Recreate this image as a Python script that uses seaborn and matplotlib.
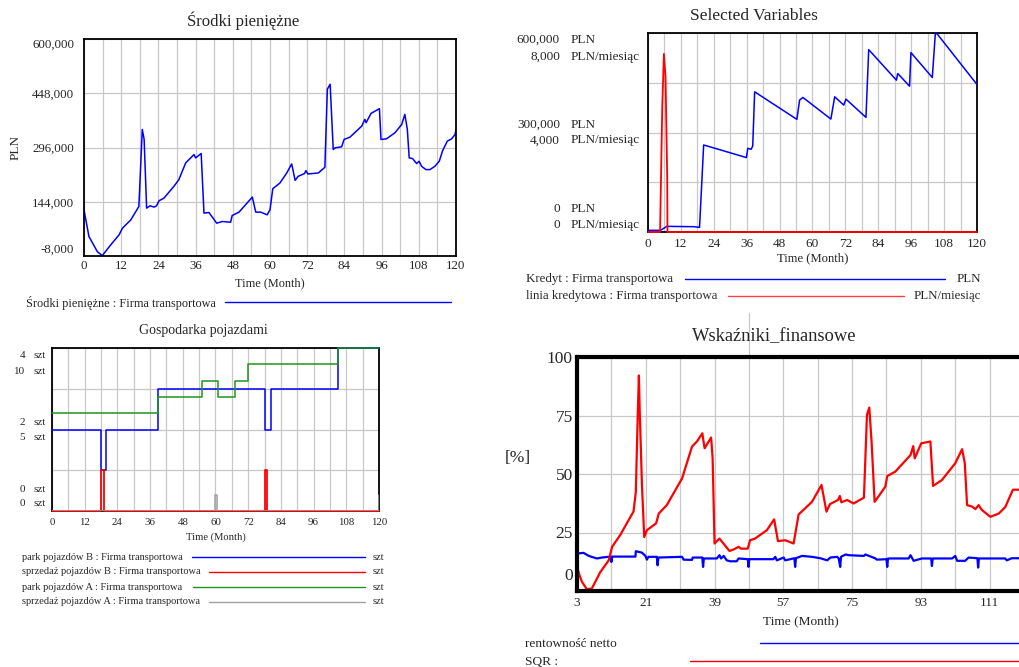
import numpy as np
import matplotlib
matplotlib.use("Agg")
import matplotlib.pyplot as plt
import matplotlib.transforms as mtransforms
from matplotlib.lines import Line2D
from matplotlib.ticker import MultipleLocator, FixedLocator, FuncFormatter
import seaborn as sns

# --- Srodki pieniezne (PLN, in thousands) ---
cash_t = [0, 1.6, 4.3, 5.9, 8.6, 11.3, 12.4, 15.1, 17.7, 18.8, 19.4, 20.2, 21.3, 22.6, 23.4,
          24.2, 25.8, 29.0, 30.6, 32.8, 35.5, 36.0, 37.8, 38.7, 40.3, 42.8, 44.6, 47.3, 47.8,
          50.0, 54.3, 55.4, 57.0, 59.1, 60.0, 60.9, 63.2, 65.4, 67.0, 68.1, 69.1, 71.1, 71.6,
          72.2, 75.6, 77.7, 78.5, 79.4, 80.4, 81.0, 83.1, 83.9, 85.8, 89.6, 90.6, 91.0, 92.6,
          95.3, 95.8, 97.6, 100.3, 102.5, 103.5, 104.3, 104.9, 106.0, 107.3, 108.1, 108.9,
          110.3, 111.6, 113.2, 114.6, 115.7, 117.2, 118.6, 119.7, 120]
cash_k = [121.5, 46.4, 4.2, -7.0, 23.0, 51.1, 69.9, 93.3, 130.8, 346.7, 318.5, 126.0, 132.7,
          129.0, 132.7, 146.8, 154.3, 187.2, 205.9, 252.8, 276.3, 266.9, 279.1, 112.1, 114.0,
          84.0, 88.6, 86.7, 105.5, 114.9, 157.0, 114.9, 114.9, 107.4, 121.5, 180.6, 196.5,
          224.7, 250.0, 204.0, 215.3, 222.8, 231.3, 221.8, 224.7, 240.6, 459.3, 473.3, 290.4,
          295.1, 297.9, 318.5, 325.1, 356.0, 374.8, 365.4, 391.7, 404.8, 318.5, 320.4, 337.3,
          360.7, 388.9, 346.7, 266.9, 265.0, 250.9, 257.5, 243.4, 234.1, 234.1, 243.4, 257.5,
          287.6, 313.8, 320.4, 332.6, 346.7]
cash_ticks = [-8000, 144000, 296000, 448000, 600000]

# --- Selected Variables ---
kredyt_t = [0, 4.5, 6.9, 16.7, 18.8, 20.3, 35.9, 36.4, 37.6, 38.2, 38.9, 54.3, 55.3, 56.5,
            59.8, 66.7, 68.1, 71.4, 72.2, 79.5, 80.5, 90.6, 91.1, 95.4, 95.9, 103.7, 104.8,
            105.4, 120]
kredyt_k = [5, 5, 17, 16, 14, 262.4, 224.4, 252.4, 249.4, 259.4, 422.7, 339.6, 397.7, 405.7,
            384.6, 340.6, 407.7, 382.6, 400.7, 345.6, 549.9, 457.8, 477.8, 439.7, 540.9, 465.8,
            598, 598, 444.7]
linia_t = [0, 4.4, 5.2, 5.8, 6.4, 7.0, 7.1, 120]
linia_v = [0, 0, 5040, 7160, 6240, 2220, 0, 0]
kredyt_ticks = [0, 300000, 600000]
linia_ticks = [0, 4000, 8000]

# --- Gospodarka pojazdami ---
parkB_t = [0, 18, 20, 39, 78, 80.5, 105, 120]
parkB_v = [2, 1, 2, 3, 2, 3, 4, 4]
sprzB_t = [0, 18, 19, 78, 79, 120]
sprzB_v = [0, 1, 0, 1, 0, 0]
parkA_t = [0, 39, 55, 61, 67, 72, 105, 120]
parkA_v = [6, 7, 8, 7, 8, 9, 10, 10]
sprzA_t = [0, 60, 60.5, 120, 120]
sprzA_v = [0, 1, 0, 0, 1]
parkB_ticks = [0, 2, 4]
parkA_ticks = [0, 5, 10]

# --- Wskazniki_finansowe (%) ---
sqr_t = [3.0, 3.6, 4.3, 5.6, 6.9, 9.1, 11.3, 12.2, 14.3, 17.8, 18.4, 18.9, 19.2, 19.4, 20.0,
         20.6, 21.3, 23.7, 24.4, 26.5, 30.5, 33.1, 34.4, 35.8, 36.4, 38.1, 38.5, 39.0, 40.3,
         42.9, 44.2, 45.3, 45.9, 47.7, 48.3, 49.6, 52.7, 54.6, 55.6, 57.5, 59.7, 61.0, 64.5,
         67.0, 68.3, 69.2, 71.3, 71.8, 72.2, 73.7, 75.4, 78.1, 78.9, 79.5, 80.1, 80.9, 82.0,
         83.7, 84.2, 86.3, 90.3, 91.0, 91.4, 93.1, 95.5, 96.2, 98.5, 102.0, 103.8, 104.5,
         105.1, 106.4, 107.3, 108.1, 109.0, 111.2, 113.4, 115.1, 117.1, 118.9, 120]
sqr_v = [10.5, 7.0, 3.9, 0.7, 1.1, 8.1, 13.1, 18.9, 23.9, 34.0, 42.4, 75.3, 92.1, 78.1, 45.3,
         23.1, 26.0, 28.9, 33.1, 36.7, 48.1, 61.7, 63.9, 67.4, 61.0, 65.6, 56.7, 20.3, 22.4,
         17.1, 17.9, 18.9, 18.1, 18.1, 21.7, 22.4, 26.0, 30.6, 21.3, 21.7, 20.3, 32.7, 38.1,
         45.3, 33.9, 37.1, 38.9, 40.6, 37.9, 38.9, 37.4, 39.9, 75.3, 78.4, 63.9, 38.1, 40.6,
         44.6, 49.1, 51.0, 58.1, 61.9, 56.7, 63.1, 63.9, 44.9, 47.4, 54.6, 60.6, 54.6, 36.7,
         36.1, 35.0, 36.7, 34.6, 31.7, 33.1, 35.9, 43.3, 43.3, 43.3]
rent_t = [3.0, 4.7, 6.1, 8.2, 9.5, 11.8, 12.0, 12.2, 18.3, 18.4, 20.0, 20.9, 21.3, 21.7, 23.9,
          24.1, 24.3, 30.5, 30.9, 33.1, 33.3, 35.8, 36.0, 36.2, 39.6, 40.3, 40.7, 41.4, 42.2,
          43.1, 44.8, 45.3, 47.7, 47.9, 48.1, 54.4, 54.9, 55.3, 57.1, 57.5, 59.9, 60.1, 60.3,
          61.9, 64.5, 66.7, 68.5, 69.3, 71.1, 71.5, 71.9, 72.1, 73.3, 74.1, 78.1, 78.5, 81.0,
          81.5, 84.0, 84.2, 84.4, 89.8, 90.3, 91.1, 93.3, 95.7, 95.9, 96.1, 101.2, 102.0,
          102.5, 104.6, 105.5, 107.8, 108.0, 108.2, 115.1, 115.5, 116.8, 120]
rent_v = [16.0, 16.3, 15.0, 13.9, 14.3, 14.7, 12.4, 14.7, 14.7, 17.0, 16.4, 15.0, 13.4, 14.6,
          14.6, 11.0, 14.3, 14.6, 13.4, 13.3, 14.3, 14.3, 10.3, 13.9, 13.9, 15.3, 13.9, 15.0,
          13.1, 12.7, 12.7, 13.9, 13.6, 10.3, 13.6, 13.6, 14.6, 13.1, 14.3, 13.1, 14.0, 10.3,
          14.0, 15.0, 14.6, 14.0, 13.1, 14.3, 14.6, 13.9, 10.3, 14.6, 15.6, 15.3, 15.0, 15.6,
          14.0, 13.4, 13.6, 10.3, 13.9, 13.9, 15.3, 12.9, 13.9, 13.9, 10.7, 13.9, 13.9, 15.0,
          12.9, 12.9, 14.3, 14.0, 10.0, 13.9, 13.9, 13.1, 14.0, 14.0]
pct_ticks = [0, 25, 50, 75, 100]
month_ticks4 = [3, 21, 39, 57, 75, 93, 111]

sns.set_style("white")
plt.rcParams['font.family'] = ['Liberation Serif', 'DejaVu Serif']

W, H = 1020, 667
fig = plt.figure(figsize=(W / 100, H / 100), dpi=100)
GRID = '#c8c8c8'
BLUE, RED, GREEN, GREY = '#0000ff', '#ff0000', '#1e961e', '#a0a0a0'


def px_box(l, t, r, b):
    return [l / W, 1 - b / H, (r - l) / W, (b - t) / H]


def fig_text(x, y, s, **kw):
    fig.text(x / W, 1 - y / H, s, va='center', **kw)


def fig_line(x0, x1, y, color, lw=1.0):
    fig.add_artist(Line2D([x0 / W, x1 / W], [1 - y / H] * 2, color=color, lw=lw,
                          transform=fig.transFigure))


def style_box(ax, lw=1.3):
    for s in ax.spines.values():
        s.set_visible(True)
        s.set_color('black')
        s.set_linewidth(lw)
    ax.grid(True, which='both', color=GRID, lw=0.9)
    ax.set_axisbelow(True)
    ax.tick_params(which='both', length=0)


def line(ax, x, y, color, lw=1.1, **kw):
    sns.lineplot(x=x, y=y, ax=ax, color=color, lw=lw, estimator=None, sort=False, **kw)


def scale_label(ax, trans_ax, v, dy, num, unit, xn, xu, fs):
    tr = mtransforms.blended_transform_factory(ax.transAxes, trans_ax.transData)
    tr = mtransforms.offset_copy(tr, fig=fig, x=0, y=-dy, units='dots')
    ax.text(xn, v, num, transform=tr, ha='right', va='center', fontsize=fs)
    ax.text(xu, v, unit, transform=tr, ha='left', va='center', fontsize=fs)


# ---------- panel 1 ----------
ax1 = fig.add_axes(px_box(84, 39, 456, 256))
line(ax1, cash_t, np.array(cash_k) * 1000, BLUE)
ax1.set_xlim(0, 120)
ax1.set_ylim(-8000, 600000)
ax1.xaxis.set_major_locator(MultipleLocator(12))
ax1.xaxis.set_minor_locator(MultipleLocator(6))
ax1.set_yticks(cash_ticks)
ax1.yaxis.set_major_formatter(FuncFormatter(lambda v, p: f"{v:,.0f}"))
style_box(ax1)
ax1.tick_params(axis='x', labelsize=9.3, pad=3)
ax1.tick_params(axis='y', labelsize=9.3, pad=7)
yl = ax1.get_yticklabels()
yl[0].set_va('bottom')
yl[-1].set_va('top')
ax1.set_xlabel('Time (Month)', fontsize=8.8)
ax1.xaxis.label.set_va('center')
ax1.xaxis.set_label_coords(0.5, -0.124)
ax1.set_ylabel('PLN', fontsize=9.5)
ax1.yaxis.label.set_va('center')
ax1.yaxis.set_label_coords(-0.183, 0.5)
fig_text(243, 21, 'Środki pieniężne', ha='center', fontsize=12)
fig_text(26, 303, 'Środki pieniężne : Firma transportowa', fontsize=8.8)
fig_line(225, 451, 302, BLUE)

# ---------- panel 2 ----------
ax2 = fig.add_axes(px_box(648, 33, 977, 232))
line(ax2, kredyt_t, np.array(kredyt_k) * 1000, BLUE, zorder=3, clip_on=False)
ax2.set_xlim(0, 120)
ax2.set_ylim(0, 600000)
ax2.xaxis.set_major_locator(MultipleLocator(12))
ax2.xaxis.set_minor_locator(MultipleLocator(6))
ax2.yaxis.set_major_locator(MultipleLocator(150000))
style_box(ax2)
ax2.tick_params(axis='y', labelleft=False)
ax2.tick_params(axis='x', labelsize=9.5, pad=4)
ax2b = ax2.twinx()
line(ax2b, linia_t, linia_v, RED, lw=1.3, zorder=3, clip_on=False)
ax2b.set_ylim(0, 8000)
ax2b.set_yticks([])
ax2b.grid(False)
for s in ax2b.spines.values():
    s.set_visible(False)
ax2.set_xlabel('Time (Month)', fontsize=9.1)
ax2.xaxis.label.set_va('center')
ax2.xaxis.set_label_coords(0.5, -0.131)
ax2b.set_ylabel('')
off_k = {600000: 7, 300000: -8, 0: -23}
off_l = {8000: 24, 4000: 8, 0: -7}
for v in kredyt_ticks:
    scale_label(ax2, ax2, v, off_k[v], f"{v:,}", 'PLN', -0.2675, -0.234, 9.5)
for v in linia_ticks:
    scale_label(ax2, ax2b, v, off_l[v], f"{v:,}", 'PLN/miesiąc', -0.2675, -0.234, 9.5)
fig_text(754, 16, 'Selected Variables', ha='center', fontsize=12.5)
fig_text(526, 279, 'Kredyt : Firma transportowa', fontsize=9.3)
fig_line(685, 945, 279, BLUE)
fig_text(981, 279, 'PLN', ha='right', fontsize=9.3)
fig_text(526, 296, 'linia kredytowa : Firma transportowa', fontsize=9.3)
fig_line(728, 904, 296, '#ff4040')
fig_text(981, 296, 'PLN/miesiąc', ha='right', fontsize=9.3)

# ---------- panel 3 ----------
ax3 = fig.add_axes(px_box(52, 348, 379, 511))
line(ax3, parkB_t, parkB_v, BLUE, drawstyle='steps-post', zorder=3, clip_on=False)
line(ax3, sprzB_t, sprzB_v, RED, lw=1.3, drawstyle='steps-post', zorder=3, clip_on=False)
ax3.set_xlim(0, 120)
ax3.set_ylim(0, 4)
ax3.xaxis.set_major_locator(MultipleLocator(12))
ax3.xaxis.set_minor_locator(MultipleLocator(6))
ax3.yaxis.set_major_locator(MultipleLocator(1))
style_box(ax3)
ax3.tick_params(axis='y', labelleft=False)
ax3.tick_params(axis='x', labelsize=7.8, pad=5)
ax3b = ax3.twinx()
line(ax3b, parkA_t, parkA_v, GREEN, drawstyle='steps-post', zorder=2.8, clip_on=False)
line(ax3b, sprzA_t, sprzA_v, GREY, drawstyle='steps-post', zorder=2.7)
ax3b.set_ylim(0, 10)
ax3b.set_yticks([])
ax3b.grid(False)
for s in ax3b.spines.values():
    s.set_visible(False)
ax3b.set_ylabel('')
ax3.set_xlabel('Time (Month)', fontsize=7.6)
ax3.xaxis.label.set_va('center')
ax3.xaxis.set_label_coords(0.5, -0.16)
off_b = {4: 8, 2: -7, 0: -22}
off_a = {10: 23, 5: 8, 0: -7}
for v in parkB_ticks:
    scale_label(ax3, ax3, v, off_b[v], f"{v}", 'szt', -0.0826, -0.058, 8)
for v in parkA_ticks:
    scale_label(ax3, ax3b, v, off_a[v], f"{v}", 'szt', -0.0826, -0.058, 8)
fig_text(203, 331, 'Gospodarka pojazdami', ha='center', fontsize=10)
leg3 = [('park pojazdów B : Firma transportowa', BLUE, 192, 557),
        ('sprzedaż pojazdów B : Firma transportowa', RED, 209, 572),
        ('park pojazdów A : Firma transportowa', GREEN, 193, 587),
        ('sprzedaż pojazdów A : Firma transportowa', GREY, 209, 602)]
for txt, col, x0, y in leg3:
    fig_text(22, y, txt, fontsize=7.5)
    fig_line(x0, 365, y, col)
    fig_text(373, y, 'szt', fontsize=7.5)

# ---------- panel 4 ----------
ax4 = fig.add_axes(px_box(577, 357, 1024, 591))
line(ax4, rent_t, rent_v, BLUE, lw=1.6)
line(ax4, sqr_t, sqr_v, RED, lw=1.6)
ax4.set_xlim(3, 120)
ax4.set_ylim(0, 100)
ax4.xaxis.set_major_locator(FixedLocator(month_ticks4))
ax4.xaxis.set_minor_locator(MultipleLocator(9, offset=3))
ax4.set_yticks(pct_ticks)
style_box(ax4, lw=3)
ax4.tick_params(axis='x', labelsize=9.5, pad=4)
ax4.tick_params(axis='y', labelsize=12.5, pad=3)
zero_lbl = ax4.yaxis.get_major_ticks()[0].label1
zero_lbl.set_transform(zero_lbl.get_transform()
                       + mtransforms.ScaledTranslation(0, 0.17, fig.dpi_scale_trans))
ax4.axvline(48, ymin=1, ymax=1.19, color=GRID, lw=0.9, clip_on=False)
ax4.set_xlabel('Time (Month)', fontsize=9.6)
ax4.xaxis.label.set_va('center')
ax4.xaxis.set_label_coords(0.5, -0.128)
ax4.set_ylabel('[%]', fontsize=12.5, rotation=0)
ax4.yaxis.label.set_va('center')
ax4.yaxis.set_label_coords(-0.132, 0.568)
fig_text(774, 337, 'Wskaźniki_finansowe', ha='center', fontsize=13.3)
fig_text(525, 644, 'rentowność netto', fontsize=9.6)
fig_line(760, 1024, 643, BLUE)
fig_text(525, 662, 'SQR :', fontsize=9.6)
fig_line(690, 1024, 661, RED)

fig.savefig('out.png', dpi=100, facecolor='white')
